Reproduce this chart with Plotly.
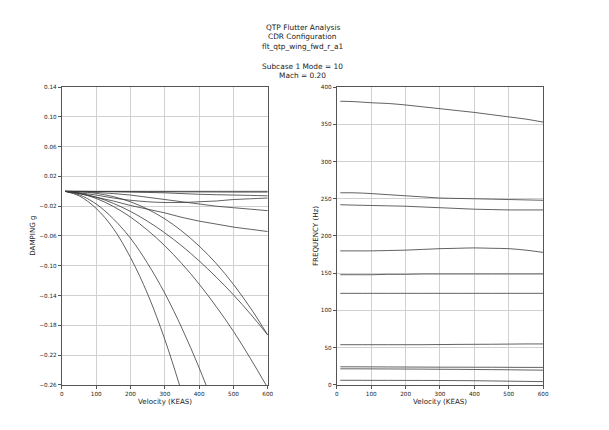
import plotly.graph_objects as go

# ---------------- data ----------------
velocity = [10, 50, 100, 150, 200, 250, 300, 350, 400, 450, 500, 550, 600]

damping_modes = [
    [0.0, 0.0, 0.0, 0.0, 0.0, 0.0, 0.0, 0.0, 0.0, 0.0, 0.0, 0.0, 0.0],
    [0.0, 0.0, -0.0002, -0.0003, -0.0004, -0.0005, -0.0006, -0.0007, -0.0008, -0.0009, -0.001, -0.001, -0.001],
    [0.0, -0.0001, -0.0003, -0.0006, -0.001, -0.0015, -0.002, -0.003, -0.004, -0.0045, -0.005, -0.0055, -0.006],
    [0.0, -0.002, -0.005, -0.009, -0.012, -0.014, -0.015, -0.015, -0.014, -0.013, -0.011, -0.010, -0.009],
    [0.0, -0.0005, -0.0015, -0.003, -0.005, -0.008, -0.011, -0.014, -0.017, -0.020, -0.022, -0.024, -0.026],
    [0.0, -0.003, -0.008, -0.013, -0.019, -0.024, -0.029, -0.035, -0.040, -0.044, -0.048, -0.051, -0.054],
    [0.0, -0.0005, -0.0027, -0.0071, -0.0141, -0.024, -0.037, -0.0535, -0.0735, -0.097, -0.125, -0.157, -0.193],
    [0.0, -0.0023, -0.0078, -0.0162, -0.027, -0.0403, -0.0558, -0.0735, -0.0934, -0.1153, -0.139, -0.165, -0.193],
    [0.0, -0.0027, -0.0096, -0.0203, -0.0346, -0.0523, -0.0731, -0.0973, -0.1245, -0.155, -0.188, -0.225, -0.264],
    [-0.0002, -0.0045, -0.017, -0.037, -0.063, -0.097, -0.137, -0.184, -0.237, -0.296],
    [-0.0002, -0.006, -0.023, -0.050, -0.089, -0.138, -0.199, -0.271],
]

frequency_modes = [
    [381, 380.5, 379, 378, 376, 373.5, 371, 368.5, 366, 363, 360, 357, 353],
    [258, 258, 257, 255.5, 254, 252.5, 251, 250.5, 250, 249.5, 249, 248.5, 248],
    [242, 241.5, 241, 240.5, 240, 239, 238, 237, 236, 235.5, 235, 235, 235],
    [180, 180, 180, 180.5, 181, 182, 183, 183.5, 184, 183.5, 183, 181, 178],
    [148, 148, 148, 148.5, 148.5, 149, 149, 149, 149, 149, 149, 149, 149],
    [123, 123, 123, 123, 123, 123, 123, 123, 123, 123, 123, 123, 123],
    [54, 54, 54, 54, 54, 54, 54.2, 54.4, 54.5, 54.6, 54.8, 55, 55],
    [24.3, 24.3, 24.2, 24.1, 24, 23.9, 23.8, 23.8, 23.7, 23.7, 23.6, 23.5, 23.5],
    [21.6, 21.6, 21.5, 21.4, 21.3, 21.2, 21.0, 20.9, 20.7, 20.5, 20.3, 20.0, 19.8],
    [6.2, 6.2, 6.1, 6.1, 6.0, 6.0, 5.9, 5.8, 5.6, 5.3, 5.0, 4.7, 4.4],
]

damping_ticks = [0.14, 0.10, 0.06, 0.02, -0.02, -0.06, -0.10, -0.14, -0.18, -0.22, -0.26]
frequency_ticks = [0, 50, 100, 150, 200, 250, 300, 350, 400]
velocity_ticks = [0, 100, 200, 300, 400, 500, 600]

title_lines = ["QTP Flutter Analysis", "CDR Configuration", "flt_qtp_wing_fwd_r_a1", "",
               "Subcase 1 Mode = 10", "Mach = 0.20"]

# ---------------- figure ----------------
W, H = 609, 430
FONT = "DejaVu Sans"
LINE = "#3a3a3a"

fig = go.Figure()

for g in damping_modes:
    fig.add_trace(go.Scatter(x=velocity[:len(g)], y=g, mode="lines", line_shape="spline",
                             line=dict(color=LINE, width=0.8), xaxis="x", yaxis="y",
                             showlegend=False, hoverinfo="skip"))
for f in frequency_modes:
    fig.add_trace(go.Scatter(x=velocity[:len(f)], y=f, mode="lines", line_shape="spline",
                             line=dict(color=LINE, width=0.8), xaxis="x2", yaxis="y2",
                             showlegend=False, hoverinfo="skip"))

def px_x(p):
    return p / W

def px_y(p):
    return 1 - p / H

axis_common = dict(showline=True, linecolor="#555", linewidth=1, mirror=True,
                   ticks="outside", ticklen=3, tickcolor="#555", tickwidth=0.8,
                   showgrid=True, gridcolor="#d0d0d0", gridwidth=0.8,
                   zeroline=False, tickfont=dict(family=FONT, size=5.7, color="#222"))

fig.update_layout(
    width=W, height=H,
    margin=dict(l=0, r=0, t=0, b=0),
    paper_bgcolor="white", plot_bgcolor="white",
    xaxis=dict(domain=[px_x(60.7), px_x(269.3)], range=[0, 600], tickvals=velocity_ticks,
               anchor="y", **axis_common),
    yaxis=dict(domain=[px_y(387.3), px_y(85.3)], range=[-0.26, 0.14], tickvals=damping_ticks,
               tickformat=".2f", anchor="x", **axis_common),
    xaxis2=dict(domain=[px_x(339.3), px_x(548.3)], range=[0, 600], tickvals=velocity_ticks,
                anchor="y2", **axis_common),
    yaxis2=dict(domain=[px_y(387.3), px_y(85.3)], range=[0, 400], tickvals=frequency_ticks,
                anchor="x2", **axis_common),
)

annotations = []
title_y = [25, 34.4, 43.8, 54, 64.4, 73.8]
for line, yy in zip(title_lines, title_y):
    if line:
        annotations.append(dict(text=line, x=0.5, y=px_y(yy), xref="paper", yref="paper",
                                showarrow=False, xanchor="center", yanchor="middle",
                                font=dict(family=FONT, size=7.4, color="#222")))

label_font = dict(family=FONT, size=7.1, color="#222")
annotations += [
    dict(text="Velocity (KEAS)", x=px_x(165), y=px_y(404), xref="paper", yref="paper",
         showarrow=False, xanchor="center", yanchor="middle", font=label_font),
    dict(text="Velocity (KEAS)", x=px_x(444), y=px_y(404), xref="paper", yref="paper",
         showarrow=False, xanchor="center", yanchor="middle", font=label_font),
    dict(text="DAMPING g", x=px_x(31.5), y=px_y(236), xref="paper", yref="paper",
         showarrow=False, xanchor="center", yanchor="middle", textangle=-90, font=label_font),
    dict(text="FREQUENCY (Hz)", x=px_x(317.5), y=px_y(236), xref="paper", yref="paper",
         showarrow=False, xanchor="center", yanchor="middle", textangle=-90, font=label_font),
]
fig.update_layout(annotations=annotations)

fig.write_html("out.html")
